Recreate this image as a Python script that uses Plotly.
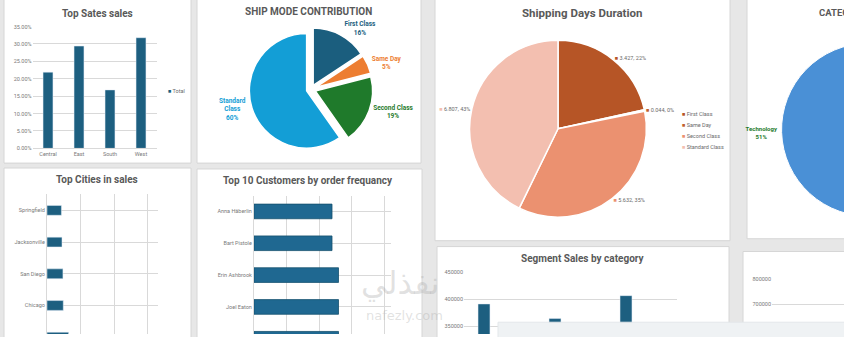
import plotly.graph_objects as go

W, H = 1000, 337

# ---------------- data ----------------
region_names = ["Central", "East", "South", "West"]
region_share = [0.219, 0.294, 0.168, 0.318]
region_series = "Total"

ship_modes = ["First Class", "Same Day", "Second Class", "Standard Class"]
ship_mode_labels = ["First Class", "Same Day", "Second Class", "Standard<br>Class"]
ship_mode_orders = [787, 264, 964, 2994]

ship_days = [3.427, 0.044, 5.632, 6.807]

categories = ["Furniture", "Office Supplies", "Technology"]
category_share = [21, 28, 51]

cities = ["Springfield", "Jacksonville", "San Diego", "Chicago", "Houston",
          "Philadelphia", "San Francisco", "Seattle", "Los Angeles", "New York City"]
city_sales = [43054, 44713, 47521, 48540, 64505, 109077, 112669, 119541, 175851, 256368]

customers = ["Anna Häberlin", "Bart Pistole", "Erin Ashbrook", "Joel Eaton", "Jonathan Doherty",
             "Zuschuss Carroll", "Chloris Kastensmidt", "Patrick O'Brill", "Seth Vernon", "Emily Phan"]
customer_orders = [12, 12, 13, 13, 13, 13, 13, 13, 13, 17]

seg_categories = ["Furniture", "Office Supplies", "Technology"]
seg_consumer = [391049, 363952, 406399]
seg_corporate = [229019, 225996, 244166]
seg_home_office = [121930, 129573, 123429]

# ---------------- helpers ----------------
def fx(p):
    return p / W

def fy(p):
    return 1 - p / H

def xd(a, b):
    return [fx(a), fx(b)]

def yd(top, bottom):
    return [max(0, fy(bottom)), min(1, fy(top))]

TICK = dict(size=5.5, color="#7a7a7a", family="Roboto")
GRID = "#d9d9d9"
TITLE_FONT = dict(family="Roboto", size=10, color="#595959")
DARK = "#1d5f80"

fig = go.Figure()

# 1 Top Sates sales
fig.add_trace(go.Bar(x=region_names, y=region_share, name=region_series, marker_color=DARK,
                     width=0.32, xaxis="x", yaxis="y", showlegend=False))

# 2 Ship mode pie
fig.add_trace(go.Pie(labels=ship_modes, values=ship_mode_orders, text=ship_mode_labels,
                     texttemplate="<b>%{text}<br>%{percent:.0%}</b>",
                     textposition="outside", sort=False, direction="clockwise",
                     marker=dict(colors=["#1b5e7e", "#ed7d31", "#1f7a2b", "#139ed6"],
                                 line=dict(color="white", width=1.5)),
                     textfont=dict(size=6.5, family="Roboto",
                                   color=["#1b5e7e", "#ed7d31", "#1f7a2b", "#139ed6"]),
                     pull=[0.08, 0.08, 0.08, 0.08], showlegend=False,
                     domain=dict(x=xd(248, 374), y=yd(25, 151))))

# 3 Shipping days pie
sd_colors = ["#b65526", "#c0602e", "#eb9170", "#f3bfb0"]
fig.add_trace(go.Pie(labels=ship_modes, values=ship_days,
                     texttemplate=['<span style="color:%s">■</span> %%{value:.3f}, %%{percent:.0%%}' % c
                                   for c in sd_colors],
                     textposition="outside", sort=False, direction="clockwise",
                     marker=dict(colors=sd_colors, line=dict(color="white", width=1.5)),
                     textfont=dict(size=5.5, family="Roboto", color="#6a6a6a"),
                     showlegend=False,
                     domain=dict(x=xd(468, 648), y=yd(38, 218))))

# 4 Category pie (only the Technology side is inside the window)
fig.add_trace(go.Pie(labels=categories, values=category_share,
                     texttemplate=["", "", "<b>%{label}<br>%{percent:.0%}</b>"],
                     textposition="outside", sort=False, direction="clockwise",
                     marker=dict(colors=["#ed7d31", "#a5a5a5", "#4a90d6"],
                                 line=dict(color="white", width=1)),
                     textfont=dict(size=6, family="Roboto", color=["#ed7d31", "#7f7f7f", "#1f7a2b"]),
                     showlegend=False,
                     domain=dict(x=xd(780, 956), y=yd(41, 217))))

# 5 Top cities
fig.add_trace(go.Bar(y=cities, x=city_sales, orientation="h", marker_color=DARK, width=0.31,
                     xaxis="x2", yaxis="y2", showlegend=False))

# 6 Top customers
fig.add_trace(go.Bar(y=customers, x=customer_orders, orientation="h", width=0.46,
                     marker=dict(color="#1f6891", line=dict(color="#15506f", width=0.8)),
                     xaxis="x3", yaxis="y3", showlegend=False))

# 7 Segment sales by category
for nm, vals, col in [("Consumer", seg_consumer, DARK),
                      ("Corporate", seg_corporate, "#ed7d31"),
                      ("Home Office", seg_home_office, "#a5a5a5")]:
    fig.add_trace(go.Bar(x=seg_categories, y=vals, name=nm, marker_color=col,
                         xaxis="x4", yaxis="y4", showlegend=False))

# 8 right bottom (empty visible part)
fig.add_trace(go.Bar(x=[], y=[], xaxis="x5", yaxis="y5", showlegend=False))

# ---------------- cards ----------------
cards = [(4, -5, 191, 163), (197, -5, 421, 163), (435, -5, 730, 242), (747, -5, 1005, 240),
         (4, 168, 191, 345), (197, 169, 422, 345), (437, 248, 729, 345), (743, 253, 1005, 345)]
shapes = []
for x0, y0, x1, y1 in cards:
    shapes.append(dict(type="rect", xref="paper", yref="paper", x0=fx(x0), x1=fx(x1),
                       y0=fy(y1), y1=fy(y0), fillcolor="white",
                       line=dict(color="#d6d6d6", width=1), layer="below"))
# overlay panel at bottom
shapes.append(dict(type="rect", xref="paper", yref="paper", x0=fx(498), x1=fx(1005),
                   y0=fy(345), y1=fy(325), fillcolor="#eff2f4",
                   line=dict(color="#e3e7ea", width=1), layer="above"))

# ---------------- titles / legends ----------------
def title(text, x, y, anchor="center", size=10):
    return dict(text="<b>%s</b>" % text, x=fx(x), y=fy(y), xref="paper", yref="paper",
                xanchor=anchor, yanchor="middle", showarrow=False,
                font=dict(TITLE_FONT, size=size))

def legend_item(text, color, x, y):
    return dict(text='<span style="color:%s">■</span> %s' % (color, text), x=fx(x), y=fy(y),
                xref="paper", yref="paper", xanchor="left", yanchor="middle", showarrow=False,
                font=dict(size=5.5, color="#6a6a6a", family="Roboto"))

annotations = [
    title("Top Sates sales", 97, 11),
    title("SHIP MODE CONTRIBUTION", 308, 9),
    title("Shipping Days Duration", 582, 10, size=11.5),
    title("CATEGORY CONTRIBUTION", 817, 10, anchor="left", size=9.5),
    title("Top Cities in sales", 97, 180),
    title("Top 10 Customers by order frequancy", 308, 181),
    title("Segment Sales by category", 583, 260),
    legend_item(region_series, DARK, 166, 90),
    dict(text="نفذلي", x=fx(400), y=fy(306), xref="paper", yref="paper", showarrow=False,
         font=dict(size=32, color="rgba(170,170,170,0.35)", family="DejaVu Sans")),
    dict(text="nafezly.com", x=fx(404), y=fy(328), xref="paper", yref="paper", showarrow=False,
         font=dict(size=13, color="rgba(170,170,170,0.35)", family="DejaVu Sans")),
]
for i, (nm, c) in enumerate(zip(ship_modes, sd_colors)):
    annotations.append(legend_item(nm, c, 680, 113 + 11.3 * i))

axis_common = dict(tickfont=TICK, gridcolor=GRID, gridwidth=0.8, zeroline=False, ticks="")

fig.update_layout(
    width=W, height=H, autosize=False,
    margin=dict(l=0, r=0, t=0, b=0),
    paper_bgcolor="#e7e7e7", plot_bgcolor="rgba(0,0,0,0)",
    font=dict(family="Roboto", color="#595959"),
    shapes=shapes, annotations=annotations,
    barmode="group", bargap=0.345, bargroupgap=0.23, showlegend=False,
    xaxis=dict(axis_common, domain=xd(32.5, 156.5), showgrid=False, showline=True,
               linecolor=GRID, anchor="y"),
    yaxis=dict(axis_common, domain=yd(24, 148), range=[0, 0.35], dtick=0.05,
               tickformat=".2%", anchor="x"),
    xaxis2=dict(axis_common, domain=xd(47, 157.6), range=[0, 330000], dtick=100000,
                showticklabels=False, anchor="y2"),
    yaxis2=dict(axis_common, domain=yd(194, 337), type="category", range=[3.9, -0.53],
                showline=True, linecolor=GRID, anchor="x2"),
    xaxis3=dict(axis_common, domain=xd(254, 390.5), range=[0, 21], dtick=5,
                showticklabels=False, anchor="y3"),
    yaxis3=dict(axis_common, domain=yd(196, 337), type="category", range=[3.85, -0.5],
                showline=True, linecolor=GRID, anchor="x3"),
    xaxis4=dict(axis_common, domain=xd(464, 677), showgrid=False, showticklabels=False,
                anchor="y4"),
    yaxis4=dict(axis_common, domain=yd(274, 337), range=[335350, 450000], dtick=50000,
                tickformat="d", anchor="x4"),
    xaxis5=dict(axis_common, domain=xd(772, 995), showgrid=False, showticklabels=False,
                anchor="y5", range=[0, 1]),
    yaxis5=dict(axis_common, domain=yd(281, 337), range=[584600, 800000], dtick=100000,
                tickformat="d", anchor="x5"),
)

fig.write_html("out.html", post_script=(
    "document.documentElement.style.overflow='hidden';"
    "document.body.style.overflow='hidden';document.body.style.margin='0';"))
